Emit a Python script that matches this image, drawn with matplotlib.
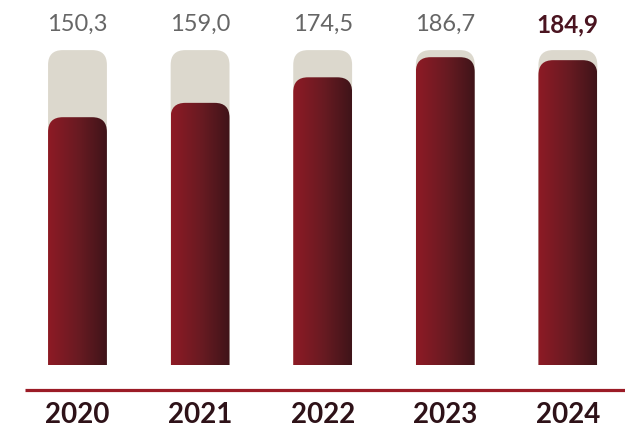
import matplotlib.pyplot as plt
import numpy as np
from matplotlib.colors import LinearSegmentedColormap
from matplotlib.patches import FancyBboxPatch

years = ["2020", "2021", "2022", "2023", "2024"]
values = [150.3, 159.0, 174.5, 186.7, 184.9]
labels = ["150,3", "159,0", "174,5", "186,7", "184,9"]

track_top = 191      # height of the grey track behind each bar
bar_w = 0.48
radius = 0.12

fig = plt.figure(figsize=(6.25, 4.27), dpi=100)
ax = fig.add_axes([0, 0.1429, 1, 0.8571])
ax.set_xlim(-0.632, 4.466)
ax.set_ylim(0, 222)
ax.axis("off")

# y units per x unit in screen pixels, so corners stay round
aspect = (122.6 / 1.6485)

grad = LinearSegmentedColormap.from_list("wine", ["#8e1a25", "#6a1b22", "#3f1419"])
g = np.linspace(0, 1, 256).reshape(1, -1)

for i, (v, lab) in enumerate(zip(values, labels)):
    x0 = i - bar_w / 2
    track = FancyBboxPatch((x0, -30), bar_w, track_top + 30,
                           boxstyle=f"round,pad=0,rounding_size={radius}",
                           mutation_aspect=aspect, fc="#dcd8cd", ec="none", zorder=1)
    ax.add_patch(track)

    shape = FancyBboxPatch((x0, -30), bar_w, v + 30,
                           boxstyle=f"round,pad=0,rounding_size={radius}",
                           mutation_aspect=aspect, fc="none", ec="none")
    ax.add_patch(shape)
    im = ax.imshow(g, cmap=grad, extent=[x0, x0 + bar_w, 0, v],
                   aspect="auto", interpolation="bicubic", zorder=2)
    im.set_clip_path(shape)

    if i == len(values) - 1:
        ax.text(i, 207, lab, ha="center", va="center", fontsize=17.5,
                fontfamily="Lato", fontweight="bold", color="#4a1420")
    else:
        ax.text(i, 207, lab, ha="center", va="center", fontsize=17,
                fontfamily="Lato", color="#666666")

    ax.text(i, -30, years[i], ha="center", va="center", fontsize=20,
            fontfamily="Lato", fontweight="bold", color="#2e1218", clip_on=False)

ax.plot([-0.428, 4.466], [-15.2, -15.2], color="#9b1b26", lw=2.3,
        solid_capstyle="butt", clip_on=False)

fig.savefig("out.png", dpi=100)
